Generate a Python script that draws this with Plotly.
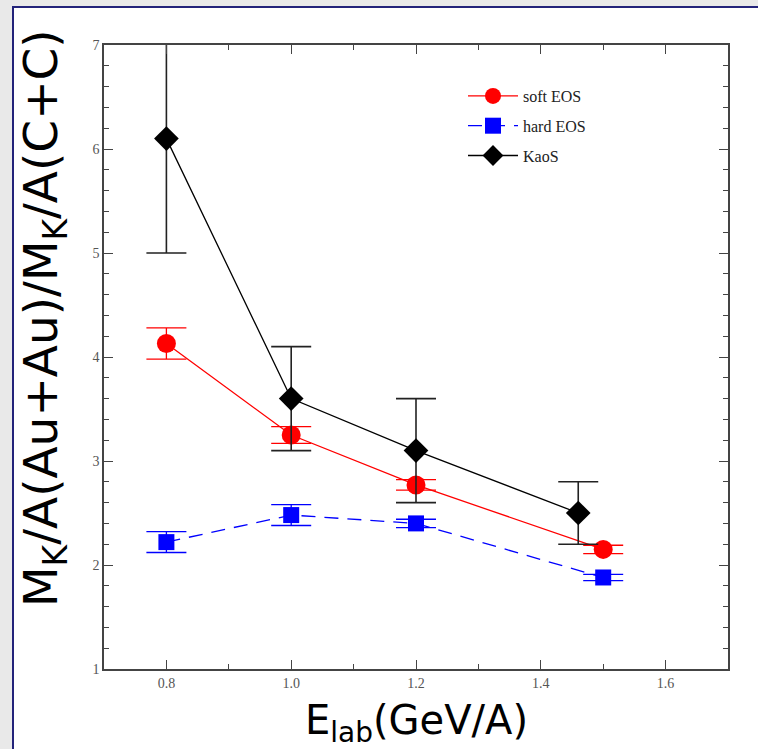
import plotly.graph_objects as go

# ---- data ----
soft_x = [0.8, 1.0, 1.2, 1.5]
soft_y = [4.13, 3.25, 2.77, 2.15]
soft_err = [0.15, 0.08, 0.05, 0.04]

hard_x = [0.8, 1.0, 1.2, 1.5]
hard_y = [2.22, 2.48, 2.40, 1.88]
hard_err = [0.10, 0.10, 0.04, 0.03]

kaos_x = [0.8, 1.0, 1.2, 1.46]
kaos_y = [6.1, 3.6, 3.1, 2.5]
kaos_err = [1.1, 0.5, 0.5, 0.3]

x_ticks = [0.8, 1.0, 1.2, 1.4, 1.6]
x_ticklabels = ["0.8", "1.0", "1.2", "1.4", "1.6"]
y_ticks = [1, 2, 3, 4, 5, 6, 7]

fig = go.Figure()

fig.add_trace(go.Scatter(
    x=soft_x, y=soft_y, name="soft EOS", mode="lines+markers",
    line=dict(color="#ff0000", width=1.3),
    marker=dict(symbol="circle", size=19, color="#ff0000"),
    error_y=dict(type="data", array=soft_err, color="#ff0000", thickness=1.3, width=20),
    legendgroup="a",
))
fig.add_trace(go.Scatter(
    x=hard_x, y=hard_y, name="hard EOS", mode="lines+markers",
    line=dict(color="#0000ff", width=1.3, dash="14px,9px"),
    marker=dict(symbol="square", size=16, color="#0000ff"),
    error_y=dict(type="data", array=hard_err, color="#0000ff", thickness=1.3, width=20),
    legendgroup="b",
))
fig.add_trace(go.Scatter(
    x=kaos_x, y=kaos_y, name="KaoS", mode="lines+markers",
    line=dict(color="#000000", width=1.3),
    marker=dict(symbol="diamond", size=19, color="#000000"),
    error_y=dict(type="data", array=kaos_err, color="#222222", thickness=1.6, width=20),
    legendgroup="c",
))

# plot area: x 104..728, y 45..669 px
W, H = 758, 749
L, R, T, B = 104, 30, 45, 80
pw, ph = W - L - R, H - T - B

def px_x(px):
    return (px - L) / pw

def px_y(py):
    return (H - B - py) / ph

fig.add_shape(type="rect", xref="paper", yref="paper",
              x0=px_x(13), x1=px_x(W + 20), y0=px_y(H + 20), y1=px_y(7),
              line=dict(color="#23237a", width=2), fillcolor="white", layer="below")

tickfont = dict(family="Liberation Serif, Times New Roman, serif", size=14, color="#555555")

fig.update_xaxes(
    range=[0.7, 1.7], tickvals=x_ticks, ticktext=x_ticklabels,
    ticks="inside", ticklen=9, tickwidth=1.3, tickcolor="#444444",
    showline=True, linecolor="#444444", linewidth=1.5, mirror="ticks",
    showgrid=False, zeroline=False, tickfont=tickfont,
    minor=dict(dtick=0.1, ticks="inside", ticklen=5, tickwidth=1.2, tickcolor="#444444", showgrid=False),
)
fig.update_yaxes(
    range=[1, 7], tickvals=y_ticks,
    ticks="inside", ticklen=9, tickwidth=1.3, tickcolor="#444444",
    showline=True, linecolor="#444444", linewidth=1.5, mirror="ticks",
    showgrid=False, zeroline=False, tickfont=tickfont,
    minor=dict(dtick=0.2, ticks="inside", ticklen=5, tickwidth=1.2, tickcolor="#444444", showgrid=False),
)

fig.add_annotation(text="M<sub>K</sub>/A(Au+Au)/M<sub>K</sub>/A(C+C)",
                   xref="paper", yref="paper", x=px_x(44), y=px_y(318),
                   xanchor="center", yanchor="middle", textangle=-90,
                   showarrow=False,
                   font=dict(family="DejaVu Sans, Verdana, sans-serif", size=47, color="#000000"))
fig.add_annotation(text="E<sub>lab</sub>(GeV/A)",
                   xref="paper", yref="paper", x=px_x(416), y=px_y(723),
                   xanchor="center", yanchor="middle",
                   showarrow=False,
                   font=dict(family="DejaVu Sans, Verdana, sans-serif", size=40, color="#000000"))

fig.update_layout(
    width=W, height=H,
    margin=dict(l=L, r=R, t=T, b=B),
    paper_bgcolor="#e9e9e9", plot_bgcolor="white",
    showlegend=True,
    legend=dict(x=px_x(463), y=px_y(79), xanchor="left", yanchor="top",
                bgcolor="rgba(0,0,0,0)", borderwidth=0,
                font=dict(family="Liberation Serif, Times New Roman, serif", size=16, color="#222222"),
                itemwidth=50, traceorder="grouped", tracegroupgap=6),
)

fig.write_html("out.html", config={"displayModeBar": False},
               post_script="document.body.style.margin='0';document.body.style.background='#e9e9e9';")
